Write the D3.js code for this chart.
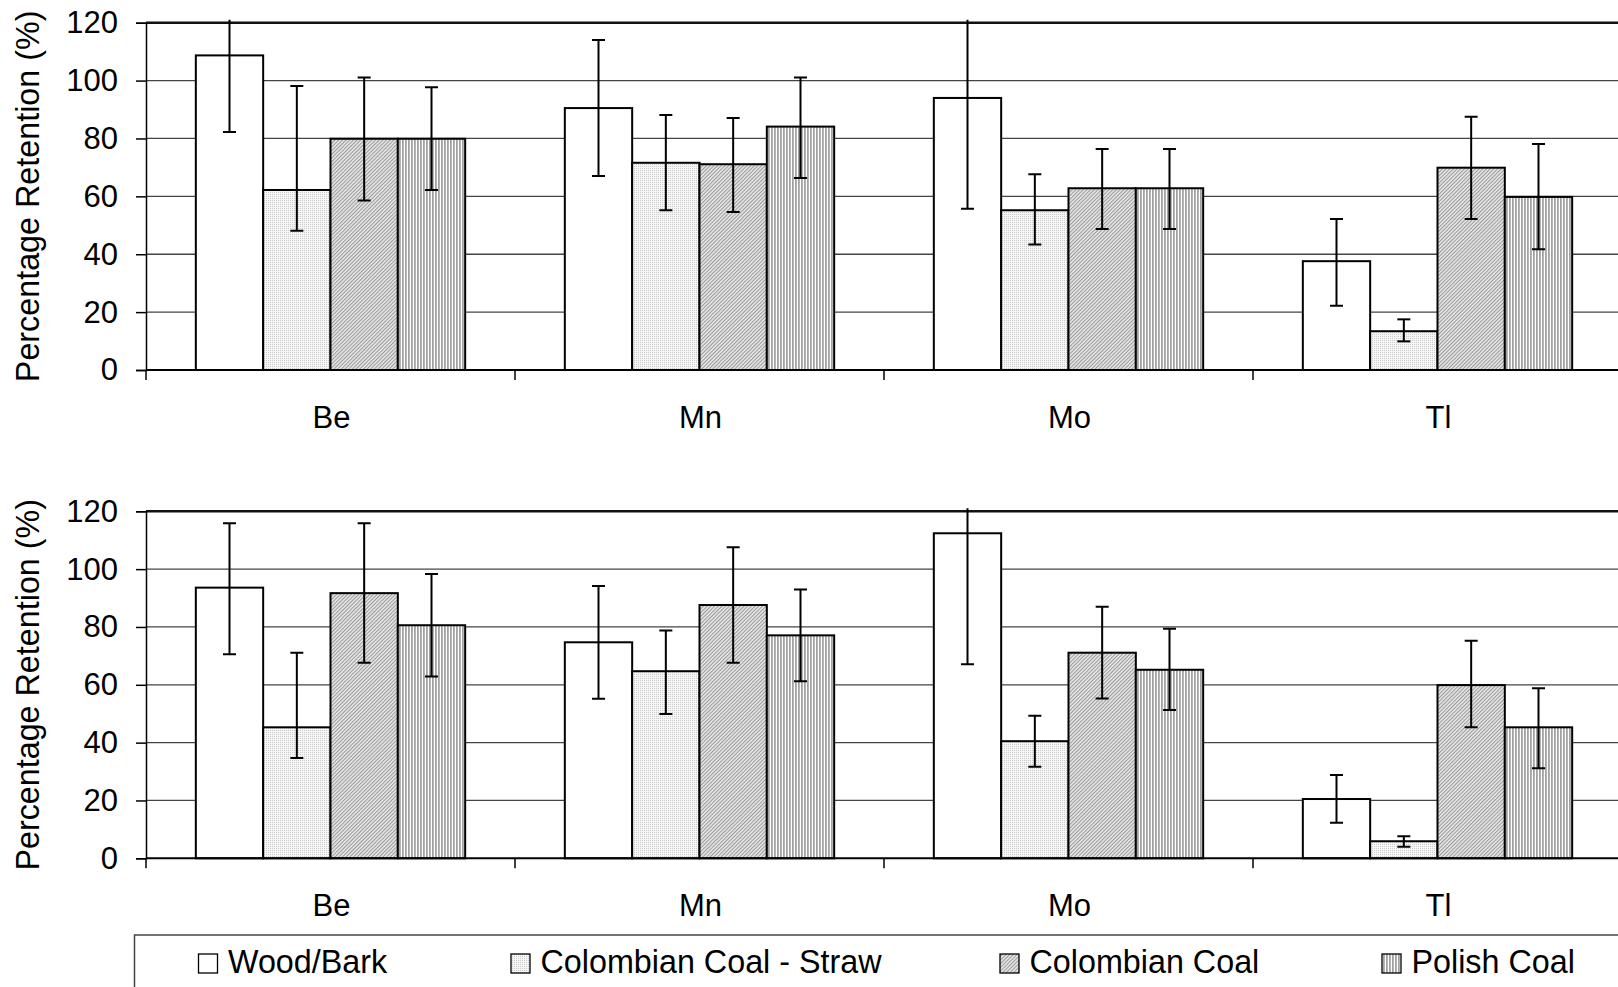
<!DOCTYPE html>
<html>
<head>
<meta charset="utf-8">
<script src="https://cdn.jsdelivr.net/npm/d3@7/dist/d3.min.js"></script>
<style>
  html, body { margin: 0; padding: 0; background: #fff; }
  svg { display: block; }
  text { font-family: "Liberation Sans", Arial, sans-serif; fill: #000; }
</style>
</head>
<body>
<svg id="chart" width="1618" height="987"></svg>
<script>
// ---------- data ----------
const categories = ["Be", "Mn", "Mo", "Tl"];
const seriesNames = ["Wood/Bark", "Colombian Coal - Straw", "Colombian Coal", "Polish Coal"];
const yTicks = [0, 20, 40, 60, 80, 100, 120];

// Top panel: values per series (order of categories)
const topWood   = [108.7, 90.5, 94.0, 37.6];
const topStraw  = [62.2, 71.6, 55.2, 13.4];
const topColCoal= [79.9, 71.1, 62.8, 69.9];
const topPolish = [79.9, 84.1, 62.8, 59.8];
// error bar bounds [low, high]
const topWoodErr    = [[82.2, 135.2], [67.0, 114.0], [55.7, 132.3], [22.2, 52.2]];
const topStrawErr   = [[48.1, 98.1], [55.2, 88.1], [43.4, 67.6], [9.9, 17.5]];
const topColCoalErr = [[58.6, 101.1], [54.6, 87.1], [48.7, 76.4], [52.2, 87.5]];
const topPolishErr  = [[62.2, 97.7], [66.3, 101.1], [48.7, 76.4], [41.7, 78.1]];

// Bottom panel
const botWood   = [93.6, 74.7, 112.4, 20.5];
const botStraw  = [45.3, 64.7, 40.5, 5.9];
const botColCoal= [91.7, 87.6, 71.1, 59.9];
const botPolish = [80.6, 77.1, 65.2, 45.3];
const botWoodErr    = [[70.6, 115.9], [55.2, 94.2], [67.1, 157.7], [12.3, 28.8]];
const botStrawErr   = [[34.7, 71.1], [49.9, 78.8], [31.7, 49.3], [4.0, 7.6]];
const botColCoalErr = [[67.6, 115.9], [67.6, 107.6], [55.3, 87.0], [45.3, 75.2]];
const botPolishErr  = [[62.9, 98.3], [61.2, 93.0], [51.3, 79.4], [31.1, 58.8]];

const panels = [
  { top: 22.7, bottom: 370, values: [topWood, topStraw, topColCoal, topPolish],
    errs: [topWoodErr, topStrawErr, topColCoalErr, topPolishErr] },
  { top: 511.3, bottom: 858.3, values: [botWood, botStraw, botColCoal, botPolish],
    errs: [botWoodErr, botStrawErr, botColCoalErr, botPolishErr] }
];

// ---------- setup ----------
const svg = d3.select("#chart");
const defs = svg.append("defs");
const fillIds = ["none", "patStraw", "patCol", "patPol"];

// Straw: fine dots
let p = defs.append("pattern").attr("id", "patStraw").attr("patternUnits", "userSpaceOnUse")
  .attr("width", 2).attr("height", 2);
p.append("rect").attr("width", 2).attr("height", 2).attr("fill", "#f5f5f5");
p.append("rect").attr("width", 1).attr("height", 1).attr("fill", "#cccccc");

// Colombian coal: diagonal hatch
p = defs.append("pattern").attr("id", "patCol").attr("patternUnits", "userSpaceOnUse")
  .attr("width", 2.6).attr("height", 2.6).attr("patternTransform", "rotate(45)");
p.append("rect").attr("width", 2.6).attr("height", 2.6).attr("fill", "#e6e6e6");
p.append("rect").attr("width", 1).attr("height", 2.6).attr("fill", "#999999");

// Polish coal: vertical stripes
p = defs.append("pattern").attr("id", "patPol").attr("patternUnits", "userSpaceOnUse")
  .attr("width", 3).attr("height", 3);
p.append("rect").attr("width", 3).attr("height", 3).attr("fill", "#ffffff");
p.append("rect").attr("width", 1.8).attr("height", 3).attr("fill", "#a2a2a2");

function fillFor(i) { return i === 0 ? "#ffffff" : `url(#${fillIds[i]})`; }

const x0 = d3.scaleBand().domain(categories).range([146, 1622]).paddingInner(0).paddingOuter(0);
const x1 = d3.scaleBand().domain(d3.range(seriesNames.length)).range([0, x0.bandwidth()])
  .paddingInner(0).paddingOuter(0.74);

panels.forEach((pn, pi) => {
  const y = d3.scaleLinear().domain([0, 120]).range([pn.bottom, pn.top]);
  const g = svg.append("g");

  // gridlines
  g.selectAll("line.grid").data(yTicks.filter(t => t > 0 && t < 120)).enter().append("line")
    .attr("x1", 146).attr("x2", 1622).attr("y1", d => y(d)).attr("y2", d => y(d))
    .attr("stroke", "#444").attr("stroke-width", 1.3);
  // top border
  g.append("line").attr("x1", 146).attr("x2", 1622).attr("y1", y(120)).attr("y2", y(120))
    .attr("stroke", "#111").attr("stroke-width", 2.4);

  // y axis
  const yAxis = d3.axisLeft(y).tickValues(yTicks).tickSize(10).tickPadding(18);
  const ya = g.append("g").attr("transform", "translate(146,0)").call(yAxis);
  ya.select(".domain").attr("stroke", "#000").attr("stroke-width", 1.5);
  ya.selectAll(".tick line").attr("stroke", "#000").attr("stroke-width", 1.5);
  ya.selectAll(".tick text").attr("font-size", "31px")
    .attr("font-family", '"Liberation Sans", Arial, sans-serif').attr("fill", "#000");

  // bars
  pn.values.forEach((vals, si) => {
    g.selectAll(null).data(vals).enter().append("rect")
      .attr("x", (d, ci) => x0(categories[ci]) + x1(si))
      .attr("width", x1.bandwidth())
      .attr("y", d => y(d))
      .attr("height", d => y(0) - y(d))
      .attr("fill", fillFor(si))
      .attr("stroke", "#000").attr("stroke-width", 2);
  });

  // x axis
  const xa = g.append("g").attr("transform", `translate(0,${pn.bottom})`)
    .call(d3.axisBottom(x0).tickSize(0).tickPadding(0));
  xa.select(".domain").remove();
  xa.selectAll(".tick text").remove();
  g.append("line").attr("x1", 146).attr("x2", 1622).attr("y1", y(0)).attr("y2", y(0))
    .attr("stroke", "#000").attr("stroke-width", 2);
  // category boundary ticks
  g.selectAll(null).data(categories).enter().append("line")
    .attr("x1", d => x0(d)).attr("x2", d => x0(d))
    .attr("y1", y(0)).attr("y2", y(0) + 10)
    .attr("stroke", "#000").attr("stroke-width", 1.5);
  g.selectAll(null).data(categories).enter().append("text")
    .attr("x", d => x0(d) + x0.bandwidth() / 2 + 1)
    .attr("y", y(0) + 58)
    .attr("text-anchor", "middle").attr("font-size", "31px")
    .text(d => d);

  // error bars (clipped slightly above plot top)
  const clipId = "clip" + pi;
  defs.append("clipPath").attr("id", clipId).append("rect")
    .attr("x", 0).attr("y", y(120) - 3).attr("width", 1618).attr("height", y(0) - y(120) + 10);
  const eg = g.append("g").attr("clip-path", `url(#${clipId})`);
  pn.errs.forEach((errs, si) => {
    errs.forEach((e, ci) => {
      const cx = x0(categories[ci]) + x1(si) + x1.bandwidth() / 2;
      eg.append("line").attr("x1", cx).attr("x2", cx).attr("y1", y(e[0])).attr("y2", y(e[1]))
        .attr("stroke", "#000").attr("stroke-width", 2);
      [e[0], e[1]].forEach(v => {
        eg.append("line").attr("x1", cx - 6.5).attr("x2", cx + 6.5).attr("y1", y(v)).attr("y2", y(v))
          .attr("stroke", "#000").attr("stroke-width", 2);
      });
    });
  });

  // y title
  svg.append("text")
    .attr("transform", `translate(39,${(pn.top + pn.bottom) / 2}) rotate(-90)`)
    .attr("text-anchor", "middle").attr("font-size", "32.3px")
    .text("Percentage Retention (%)");
});

// ---------- legend ----------
const lg = svg.append("g");
lg.append("rect").attr("x", 134.5).attr("y", 935).attr("width", 1500).attr("height", 80)
  .attr("fill", "#fff").attr("stroke", "#444").attr("stroke-width", 1.5);
const legendX = [198.5, 511, 1000, 1382];
seriesNames.forEach((name, i) => {
  lg.append("rect").attr("x", legendX[i]).attr("y", 954).attr("width", 19).attr("height", 19)
    .attr("fill", fillFor(i)).attr("stroke", "#000").attr("stroke-width", 1.3);
  lg.append("text").attr("x", legendX[i] + 29.5).attr("y", 972.5)
    .attr("font-size", "32.3px").text(name);
});
</script>
</body>
</html>
